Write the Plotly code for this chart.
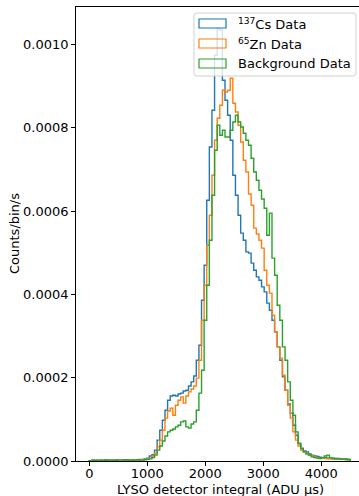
import numpy as np
import plotly.graph_objects as go

# Histogram binning of the LYSO integral (ADU µs)
BIN_WIDTH = 45
N_BINS = 100
RATE_UNIT = 1e-4  # rate arrays are given in units of 1e-4 counts/bin/s

cs137_rate = [
    0.01, 0.02, 0.02, 0.01, 0.02, 0.02, 0.03, 0.02, 0.02, 0.02,
    0.03, 0.02, 0.02, 0.03, 0.02, 0.03, 0.03, 0.02, 0.03, 0.04,
    0.04, 0.05, 0.07, 0.12, 0.15, 0.26, 0.50, 0.74, 0.98, 1.22,
    1.46, 1.56, 1.58, 1.56, 1.61, 1.63, 1.68, 1.70, 1.80, 1.90,
    2.04, 2.42, 2.78, 3.86, 4.70, 6.26, 7.54, 8.42, 9.74, 10.39,
    10.34, 9.14, 8.66, 8.30, 7.70, 6.86, 6.38, 5.90, 5.47, 5.30,
    5.02, 4.99, 4.75, 4.58, 4.42, 4.34, 4.18, 4.06, 3.79, 3.62,
    3.38, 3.10, 2.74, 2.42, 2.02, 1.70, 1.37, 1.15, 0.86, 0.62,
    0.41, 0.29, 0.24, 0.22, 0.17, 0.14, 0.12, 0.11, 0.09, 0.08,
    0.08, 0.07, 0.06, 0.07, 0.05, 0.06, 0.05, 0.04, 0.05, 0.04,
]

zn65_rate = [
    0.01, 0.01, 0.02, 0.02, 0.01, 0.02, 0.02, 0.01, 0.02, 0.02,
    0.02, 0.01, 0.02, 0.02, 0.02, 0.03, 0.02, 0.02, 0.03, 0.02,
    0.03, 0.04, 0.05, 0.07, 0.12, 0.19, 0.34, 0.50, 0.74, 1.03,
    1.20, 1.27, 1.10, 1.34, 1.46, 1.54, 1.39, 1.56, 1.66, 1.73,
    1.80, 1.99, 2.42, 3.38, 4.22, 5.18, 5.90, 6.86, 7.70, 8.23,
    8.54, 8.90, 8.86, 8.90, 9.19, 8.59, 8.38, 8.06, 7.66, 7.22,
    6.94, 6.41, 6.14, 5.59, 5.45, 5.30, 5.11, 4.58, 4.22, 4.03,
    3.50, 3.10, 2.74, 2.47, 2.06, 1.70, 1.34, 1.03, 0.70, 0.50,
    0.36, 0.26, 0.22, 0.17, 0.14, 0.12, 0.10, 0.08, 0.07, 0.07,
    0.06, 0.05, 0.06, 0.05, 0.04, 0.05, 0.04, 0.04, 0.03, 0.04,
]

background_rate = [
    0.01, 0.02, 0.01, 0.02, 0.02, 0.01, 0.02, 0.02, 0.02, 0.01,
    0.02, 0.02, 0.02, 0.02, 0.03, 0.02, 0.02, 0.02, 0.03, 0.02,
    0.02, 0.03, 0.04, 0.05, 0.08, 0.14, 0.26, 0.36, 0.48, 0.60,
    0.70, 0.74, 0.77, 0.82, 0.86, 0.94, 0.96, 0.82, 0.79, 0.89,
    0.94, 1.22, 1.63, 2.18, 3.38, 4.22, 5.30, 6.38, 7.46, 8.06,
    7.82, 7.94, 7.78, 7.78, 7.94, 8.14, 8.30, 8.14, 8.02, 7.87,
    7.70, 7.58, 7.27, 6.94, 6.74, 6.50, 6.29, 6.07, 5.42, 5.95,
    4.87, 4.46, 3.74, 3.38, 2.74, 2.42, 1.90, 1.46, 1.10, 0.70,
    0.43, 0.31, 0.22, 0.17, 0.14, 0.10, 0.08, 0.07, 0.06, 0.08,
    0.12, 0.14, 0.08, 0.05, 0.06, 0.05, 0.04, 0.05, 0.04, 0.03,
]

series_names = ["<sup>137</sup>Cs Data", "<sup>65</sup>Zn Data", "Background Data"]
series_colors = ["#1f77b4", "#ff7f0e", "#2ca02c"]
series_rates = [cs137_rate, zn65_rate, background_rate]

x_ticks = [0, 1000, 2000, 3000, 4000]
y_ticks = [0.0, 0.0002, 0.0004, 0.0006, 0.0008, 0.0010]

FONT = "DejaVu Sans"
W, H = 359, 496
ML, MR, MT, MB = 76, 0, 7, 35
PW, PH = W - ML - MR, H - MT - MB

edges = np.arange(N_BINS + 1) * BIN_WIDTH


def step_outline(rates):
    """Outline of a step histogram, dropping to zero at both ends."""
    x = np.concatenate([[edges[0]], edges])
    y = np.concatenate([[0.0], np.asarray(rates) * RATE_UNIT, [0.0]])
    return x, y


def px_x(p):
    return (p - ML) / PW


def px_y(p):
    return (H - MB - p) / PH


fig = go.Figure()
for name, color, rates in zip(series_names, series_colors, series_rates):
    x, y = step_outline(rates)
    fig.add_trace(go.Scatter(
        x=x, y=y, mode="lines", name=name,
        line=dict(color=color, width=1.4, shape="hv"),
        showlegend=False, hoverinfo="skip",
    ))

# Legend frame with rounded corners
lx0, lx1, ly0, ly1, rad = 194, 356, 13, 76, 3
rx, ry = rad / PW, rad / PH
X0, X1, YT, YB = px_x(lx0), px_x(lx1), px_y(ly0), px_y(ly1)
frame = (
    f"M {X0+rx},{YT} L {X1-rx},{YT} Q {X1},{YT} {X1},{YT-ry} "
    f"L {X1},{YB+ry} Q {X1},{YB} {X1-rx},{YB} "
    f"L {X0+rx},{YB} Q {X0},{YB} {X0},{YB+ry} "
    f"L {X0},{YT-ry} Q {X0},{YT} {X0+rx},{YT} Z"
)
shapes = [dict(type="path", path=frame, xref="paper", yref="paper",
               fillcolor="rgba(255,255,255,0.8)",
               line=dict(color="rgba(204,204,204,0.9)", width=1), layer="above")]

annotations = []
row_centers = [23.5, 43.5, 63.5]
for name, color, yc in zip(series_names, series_colors, row_centers):
    shapes.append(dict(type="rect", xref="paper", yref="paper",
                       x0=px_x(199), x1=px_x(226), y0=px_y(yc - 4.5), y1=px_y(yc + 4.5),
                       line=dict(color=color, width=1.2), fillcolor="rgba(0,0,0,0)",
                       layer="above"))
    annotations.append(dict(text=name, xref="paper", yref="paper",
                            x=px_x(236), y=px_y(yc), xanchor="left", yanchor="middle",
                            showarrow=False, font=dict(family=FONT, size=13, color="black")))

annotations.append(dict(text="LYSO detector integral (ADU μs)", xref="paper", yref="paper",
                        x=px_x(220), y=px_y(489), xanchor="center", yanchor="middle",
                        showarrow=False, font=dict(family=FONT, size=13, color="black")))
annotations.append(dict(text="Counts/bin/s", xref="paper", yref="paper", textangle=-90,
                        x=px_x(14), y=px_y(234), xanchor="center", yanchor="middle",
                        showarrow=False, font=dict(family=FONT, size=13, color="black")))

axis_common = dict(showgrid=False, zeroline=False, showline=True, linecolor="black",
                   linewidth=0.8, ticks="outside", ticklen=4, tickwidth=0.8,
                   tickcolor="black", tickfont=dict(family=FONT, size=13, color="black"))

fig.update_layout(
    width=W, height=H,
    margin=dict(l=ML, r=MR, t=MT, b=MB),
    paper_bgcolor="white", plot_bgcolor="white",
    xaxis=dict(range=[-229, 4650], tickvals=x_ticks, mirror=True,
               ticklabelstandoff=-4, **axis_common),
    yaxis=dict(range=[0, 0.00109], tickvals=y_ticks,
               ticktext=[f"{v:.4f}" for v in y_ticks], **axis_common),
    shapes=shapes, annotations=annotations,
    font=dict(family=FONT, size=13, color="black"),
)

fig.write_html("out.html")
